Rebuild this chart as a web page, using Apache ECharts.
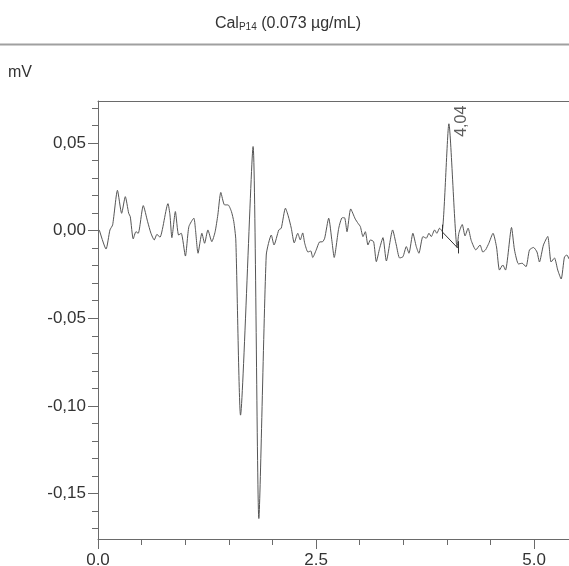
<!DOCTYPE html>
<html>
<head>
<meta charset="utf-8">
<script src="https://cdn.jsdelivr.net/npm/echarts@6/dist/echarts.min.js"></script>
<style>
  html, body { margin: 0; padding: 0; background: #fff; }
  #chart { width: 569px; height: 566px; }
</style>
</head>
<body>
<div id="chart"></div>
<script>
// retention time (min) and detector signal (mV)
var times = [0.015, 0.092, 0.137, 0.168, 0.223, 0.271, 0.313, 0.352, 0.370, 0.404,
  0.435, 0.461, 0.519, 0.569, 0.607, 0.645, 0.676, 0.710, 0.802, 0.825,
  0.847, 0.887, 0.924, 0.954, 1.002, 1.042, 1.099, 1.116, 1.147, 1.191,
  1.222, 1.260, 1.305, 1.343, 1.374, 1.408, 1.451, 1.491, 1.529, 1.557,
  1.580, 1.634, 1.778, 1.844, 1.929, 1.987, 2.018, 2.073, 2.101, 2.149,
  2.181, 2.216, 2.250, 2.290, 2.319, 2.347, 2.370, 2.407, 2.439, 2.462,
  2.502, 2.539, 2.576, 2.599, 2.645, 2.683, 2.708, 2.760, 2.800, 2.828,
  2.855, 2.897, 2.949, 2.981, 3.008, 3.038, 3.065, 3.095, 3.123, 3.160,
  3.191, 3.229, 3.267, 3.306, 3.378, 3.420, 3.458, 3.496, 3.535, 3.565,
  3.610, 3.649, 3.679, 3.725, 3.764, 3.794, 3.821, 3.859, 3.885, 3.916,
  3.945, 4.023, 4.117, 4.137, 4.176, 4.208, 4.243, 4.279, 4.332, 4.380,
  4.412, 4.443, 4.481, 4.529, 4.569, 4.603, 4.641, 4.672, 4.741, 4.775,
  4.821, 4.863, 4.907, 4.947, 4.993, 5.033, 5.061, 5.107, 5.156, 5.195,
  5.233, 5.271, 5.310, 5.348, 5.376, 5.400];
var signal = [0.0004, -0.0105, 0.0004, 0.0033, 0.0230, 0.0099, 0.0194, 0.0099, 0.0080, -0.0047,
  -0.0006, -0.0015, 0.0143, 0.0051, -0.0015, -0.0053, -0.0021, -0.0038, 0.0154, 0.0090,
  -0.0040, 0.0109, -0.0025, -0.0015, -0.0145, 0.0023, 0.0071, 0.0014, -0.0129, -0.0015,
  -0.0072, 0.0004, -0.0063, -0.0006, 0.0090, 0.0218, 0.0147, 0.0147, 0.0110, 0.0051,
  -0.0053, -0.1053, 0.0480, -0.1643, -0.0139, -0.0025, -0.0082, 0.0004, 0.0014, 0.0128,
  0.0084, 0.0014, -0.0070, -0.0015, -0.0053, -0.0013, -0.0072, -0.0122, -0.0116, -0.0153,
  -0.0110, -0.0065, -0.0063, -0.0043, 0.0071, -0.0063, -0.0153, 0.0014, 0.0074, 0.0073,
  -0.0006, 0.0124, 0.0067, 0.0042, 0.0023, -0.0034, -0.0006, -0.0082, -0.0053, -0.0063,
  -0.0177, -0.0101, -0.0040, -0.0173, 0.0004, -0.0082, -0.0156, -0.0149, -0.0091, -0.0129,
  -0.0015, -0.0091, -0.0129, -0.0034, -0.0043, -0.0015, -0.0034, 0.0004, -0.0015, 0.0014,
  -0.0002, 0.0610, -0.0096, -0.0015, 0.0035, -0.0030, 0.0014, -0.0056, -0.0110, -0.0082,
  -0.0122, -0.0110, -0.0072, -0.0015, -0.0093, -0.0225, -0.0196, -0.0225, 0.0018, -0.0110,
  -0.0190, -0.0186, -0.0206, -0.0110, -0.0096, -0.0122, -0.0179, -0.0082, -0.0033, -0.0179,
  -0.0156, -0.0225, -0.0276, -0.0150, -0.0139, -0.0162];

// integrated peak
var peakPoint = [4.023, 0.0610];
var peakLabel = '4,04';
var baselineStart = [3.945, -0.0006];
var baselineEnd = [4.126, -0.0100];

// axis ticks
var xMajorTicks = [0, 2.5, 5.0];
var xMinorTicks = [0.5, 1.0, 1.5, 2.0, 3.0, 3.5, 4.0, 4.5];
var yMajorTicks = [-0.15, -0.10, -0.05, 0.00, 0.05];
var yMinorTicks = [-0.17, -0.16, -0.14, -0.13, -0.12, -0.11, -0.09, -0.08, -0.07, -0.06,
  -0.04, -0.03, -0.02, -0.01, 0.01, 0.02, 0.03, 0.04, 0.06, 0.07];

var axisColor = '#6a6a6a';
var textColor = '#333';
var fontFamily = '"Liberation Sans", Arial, sans-serif';

var traceData = times.map(function (t, i) { return [t, signal[i]]; });

var chart = echarts.init(document.getElementById('chart'));

var option = {
  animation: false,
  backgroundColor: '#fff',
  grid: {
    left: 98, right: 0, top: 101, bottom: 27,
    outerBoundsMode: 'none'
  },
  graphic: [
    {
      type: 'text', x: 288, y: 22,
      style: {
        text: '{a|Cal}{s|P14}{a| (0.073 µg/mL)}',
        align: 'center', verticalAlign: 'middle',
        fill: textColor,
        rich: {
          a: { fontSize: 16, fontFamily: fontFamily, fill: textColor, lineHeight: 20, verticalAlign: 'bottom' },
          s: { fontSize: 10, fontFamily: fontFamily, fill: textColor, lineHeight: 13, verticalAlign: 'bottom' }
        }
      }
    },
    {
      type: 'line',
      shape: { x1: 0, y1: 44.5, x2: 569, y2: 44.5 },
      style: { stroke: '#a0a0a0', lineWidth: 2 }
    },
    {
      type: 'text', x: 8, y: 72.5,
      style: {
        text: 'mV', fontSize: 16, fontFamily: fontFamily, fill: textColor,
        verticalAlign: 'middle'
      }
    }
  ],
  xAxis: [
    {
      type: 'value', min: 0, max: 5.4, position: 'bottom',
      axisLine: { onZero: false, lineStyle: { color: axisColor, width: 1 } },
      axisTick: { length: 10, customValues: xMajorTicks, lineStyle: { color: axisColor } },
      axisLabel: {
        customValues: xMajorTicks, margin: 13,
        fontSize: 17, fontFamily: fontFamily, color: textColor,
        formatter: function (v) { return v.toFixed(1); }
      },
      splitLine: { show: false }
    },
    {
      type: 'value', min: 0, max: 5.4, position: 'bottom',
      axisLine: { show: false, onZero: false },
      axisTick: { length: 6, customValues: xMinorTicks, lineStyle: { color: axisColor } },
      axisLabel: { show: false },
      splitLine: { show: false }
    },
    {
      type: 'value', min: 0, max: 5.4, position: 'top',
      axisLine: { onZero: false, lineStyle: { color: axisColor, width: 1 } },
      axisTick: { show: false },
      axisLabel: { show: false },
      splitLine: { show: false }
    }
  ],
  yAxis: [
    {
      type: 'value', min: -0.176, max: 0.074, position: 'left',
      axisLine: { show: true, onZero: false, lineStyle: { color: axisColor, width: 1 } },
      axisTick: { show: true, length: 10, customValues: yMajorTicks, lineStyle: { color: axisColor } },
      axisLabel: {
        customValues: yMajorTicks, margin: 12,
        fontSize: 17, fontFamily: fontFamily, color: textColor,
        formatter: function (v) { return v.toFixed(2).replace('.', ','); }
      },
      splitLine: { show: false }
    },
    {
      type: 'value', min: -0.176, max: 0.074, position: 'left',
      axisLine: { show: false, onZero: false },
      axisTick: { show: true, length: 6, customValues: yMinorTicks, lineStyle: { color: axisColor } },
      axisLabel: { show: false },
      splitLine: { show: false }
    }
  ],
  series: [
    {
      type: 'line',
      xAxisIndex: 0, yAxisIndex: 0,
      data: traceData,
      showSymbol: false,
      smooth: 0.2,
      lineStyle: { color: '#555', width: 1 },
      silent: true,
      markLine: {
        silent: true,
        symbol: ['none', 'none'],
        label: { show: false },
        lineStyle: { color: '#333', width: 1, type: 'solid' },
        data: [
          [{ coord: baselineStart }, { coord: baselineEnd }],
          [{ coord: [baselineStart[0], baselineStart[1] + 0.004] }, { coord: [baselineStart[0], baselineStart[1] - 0.004] }],
          [{ coord: [baselineEnd[0], baselineEnd[1] + 0.004] }, { coord: [baselineEnd[0], baselineEnd[1] - 0.003] }]
        ]
      }
    },
    {
      type: 'scatter',
      xAxisIndex: 0, yAxisIndex: 0,
      data: [peakPoint],
      symbolSize: 0,
      silent: true,
      label: {
        show: true, position: 'inside', offset: [2.5, 13], rotate: 90,
        formatter: peakLabel,
        fontSize: 16, fontFamily: fontFamily, color: textColor
      }
    }
  ]
};

chart.setOption(option);
</script>
</body>
</html>
